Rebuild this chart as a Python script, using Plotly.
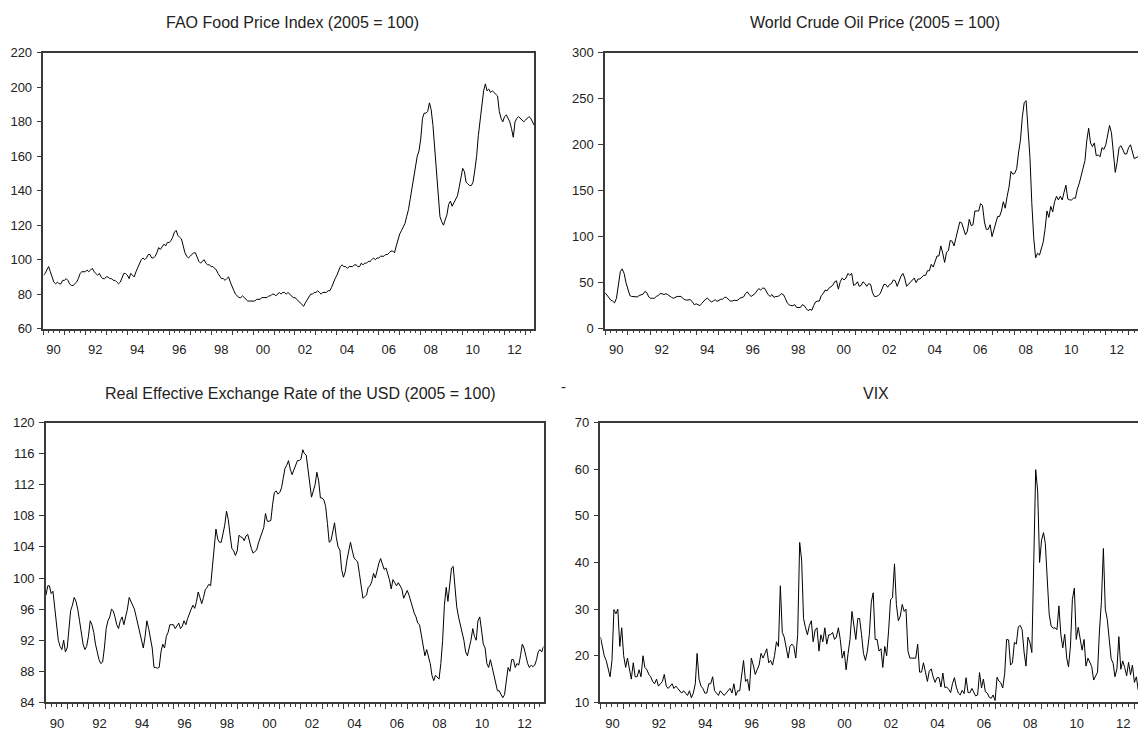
import pandas as pd
import plotly.graph_objects as go

# Monthly observations, 1990:01 - 2013:06
months = pd.date_range("1990-01-01", periods=282, freq="MS")

fao_food = [
    91, 92, 94, 96, 93, 90, 87, 86, 87, 86, 86, 88,
    88, 89, 88, 86, 85, 85, 86, 87, 89, 92, 93, 93,
    93, 94, 93, 94, 95, 93, 92, 91, 92, 90, 89, 89,
    90, 90, 89, 89, 88, 88, 87, 86, 87, 90, 92, 92,
    91, 89, 92, 91, 90, 93, 95, 97, 100, 101, 100, 101,
    103, 103, 101, 101, 102, 104, 107, 106, 108, 109, 108, 110,
    110, 111, 113, 116, 117, 114, 113, 112, 108, 104, 102, 101,
    102, 103, 104, 104, 101, 99, 98, 99, 100, 98, 97, 97,
    96, 96, 95, 94, 92, 90, 89, 89, 88, 89, 90, 87,
    84, 82, 80, 79, 78, 78, 79, 78, 77, 76, 76, 76,
    76, 76, 77, 77, 77, 78, 78, 78, 78, 79, 79, 80,
    80, 79, 80, 81, 80, 81, 81, 80, 81, 80, 79, 78,
    78, 77, 76, 75, 74, 73, 75, 77, 79, 80, 80, 81,
    81, 82, 81, 80, 81, 81, 81, 82, 82, 84, 87, 89,
    91, 94, 96, 97, 96, 96, 95, 96, 96, 96, 97, 97,
    96, 96, 98, 97, 98, 98, 99, 99, 100, 101, 100, 101,
    101, 102, 102, 102, 103, 103, 104, 105, 105, 104, 108, 112,
    115, 117, 119, 121, 125, 129, 135, 142, 149, 155, 160, 163,
    170, 182, 185, 185, 186, 191, 187, 178, 165, 150, 135, 125,
    122, 120, 123, 126, 132, 134, 131, 133, 135, 137, 142, 148,
    153, 151, 145, 144, 143, 143, 145, 152, 160, 172, 182, 192,
    198, 202, 198, 199, 197, 198, 197, 196, 195, 186, 182, 180,
    183, 184, 182, 180, 176, 171, 180, 182, 183, 182, 181, 180,
    181, 182, 183, 182, 180, 178,
]

crude_oil = [
    39, 36, 34, 31, 30, 28, 33, 49, 62, 65, 60, 50,
    44, 36, 35, 35, 35, 34.5, 36, 37, 37.5, 40.5, 39, 34.5,
    33, 33, 33, 35, 36, 38, 38, 37, 38, 37, 35, 34,
    33, 34, 35, 35, 35, 33, 31.5, 31, 31, 31.5, 29, 26,
    27, 26, 25, 27.5, 30, 32, 33, 31, 29, 30, 31.5, 29.6,
    31, 32, 32, 34, 34, 32, 30, 30, 31, 30.5, 31, 33,
    34, 34.5, 38, 40, 37, 35, 36.5, 38, 41, 43.5, 42, 44,
    44, 40, 37, 35, 37, 34, 35, 35, 36, 38, 37, 33,
    28, 26, 25, 25, 26, 23, 23, 23, 26, 25, 22, 19.5,
    21, 20, 25, 29, 30, 30, 36, 38, 42, 41, 44, 46,
    47, 51, 52, 43, 51, 55, 53, 55, 60, 58, 60, 47,
    48, 51, 46, 47, 51, 49, 46, 49, 48, 39, 35, 35,
    36, 38, 44, 48, 48, 45, 48, 49, 53, 52, 46, 51,
    57, 60, 55, 46, 48, 51, 53, 55, 50, 54, 54, 56,
    58, 58, 63, 63, 70, 67, 72, 79, 79, 90, 82, 72,
    83, 85, 96, 95, 90, 99, 106, 116, 115, 109, 102, 106,
    119, 112, 113, 128, 128, 128, 136, 134, 116, 108, 108, 113,
    100, 108, 113, 122, 122, 128, 138, 131, 144, 154, 171, 168,
    169, 174, 191, 205, 230, 246, 248, 212, 186, 136, 98, 77,
    82, 80, 88, 94, 108, 128, 121, 133, 127, 138, 144, 140,
    144, 140, 148, 156, 141, 140, 140, 142, 142, 152, 158, 167,
    174, 183, 204, 218, 202, 198, 202, 188, 189, 187, 197, 195,
    200, 211, 221, 213, 195, 170, 181, 197, 199, 194, 190, 190,
    197, 200, 192, 185, 186, 187,
]

usd_reer = [
    97.8, 99.0, 99.0, 98.0, 98.3, 96.0, 94.0, 92.0, 91.2, 90.8, 92.0, 90.5,
    91.0, 93.5, 95.8, 96.5, 97.5, 97.0, 96.0, 94.5, 93.0, 91.5, 90.8, 91.2,
    92.5, 94.5, 94.0, 93.0, 91.5, 90.5, 89.5, 89.0, 89.2, 91.0, 93.5, 94.5,
    95.0, 96.0, 95.8, 95.0, 94.0, 93.5, 94.5, 95.0, 94.0, 95.0, 96.0, 97.5,
    97.0, 96.5, 96.0, 95.0, 94.0, 93.0, 92.0, 91.0, 92.5, 94.5, 93.5, 92.0,
    91.0, 88.5, 88.5, 88.4, 88.5, 90.5, 91.5, 91.0, 92.5, 93.0, 94.0, 94.0,
    94.0, 93.5, 93.8, 94.2, 93.5, 93.8, 94.5, 94.0, 94.8, 95.5, 96.0, 96.5,
    96.1, 97.0, 98.2, 97.5, 96.7, 97.5, 98.5, 98.8, 99.2, 99.0, 101.5, 104.0,
    106.3, 105.0, 104.6, 104.6, 105.5, 106.8, 108.6, 107.5, 105.5, 103.8, 103.5, 102.9,
    103.5, 105.5, 105.3, 105.2, 104.8, 105.4, 105.6, 104.5, 103.8, 103.2, 103.4, 103.6,
    104.5, 105.2, 106.0, 106.5, 108.3, 107.3, 107.3, 107.4, 109.5, 111.0, 111.2, 110.8,
    111.0, 111.6, 112.8, 114.1, 114.5, 115.1, 114.0, 113.3, 113.9, 114.4, 115.1, 115.1,
    115.3, 116.5, 116.0, 115.8, 114.0, 112.7, 110.4, 111.2, 112.0, 113.6, 112.5, 110.3,
    110.3, 110.0, 109.2, 107.0, 104.6, 104.8, 106.0, 107.1, 105.2, 104.0, 103.6, 101.1,
    100.1, 100.8, 102.3, 103.5, 104.6, 103.5, 102.6, 102.3, 102.1, 100.6, 99.0, 97.4,
    97.6, 97.8, 98.8, 99.0, 99.5, 100.6, 100.0, 101.0, 101.9, 102.5, 101.8, 101.1,
    101.3, 100.6, 99.8, 98.6, 99.8, 99.4, 99.0, 99.4, 99.0, 98.6, 97.4, 97.8,
    98.4, 97.8, 97.0, 96.3, 95.5, 95.0, 94.2, 94.0, 92.5, 91.5, 90.0, 90.8,
    90.0, 89.0, 87.5, 86.8, 87.5, 87.2, 87.0, 89.0, 92.0, 96.5, 98.8, 97.0,
    99.0, 101.3, 101.5, 99.0, 96.3, 95.0, 94.0, 92.8, 92.0, 90.5, 90.0, 91.0,
    92.0, 93.5, 92.5, 92.0, 94.5, 95.0, 93.0, 91.5, 91.0, 89.0, 88.5, 89.5,
    88.5, 87.5, 86.5, 85.5, 85.5, 85.0, 84.6, 85.0, 87.0, 88.5, 88.0, 89.5,
    89.5, 88.5, 89.0, 88.8, 90.0, 91.5, 91.0, 90.0, 89.0, 88.5, 88.8, 88.6,
    88.8, 89.5, 90.5, 90.8, 90.5, 91.2,
]

vix = [
    24, 22, 20, 19, 17.5, 15.5, 19, 29.9, 29, 30, 22, 26,
    20, 17.5, 19.5, 17, 15, 18.5, 15.5, 15.5, 17, 15.5, 20, 17.5,
    17, 16, 15.5, 14.5, 14, 15, 13.5, 14, 14.5, 16, 13.5, 13,
    13.5, 14, 13, 13.5, 13, 12.5, 12, 12.5, 12, 11.5, 12.5, 11,
    12, 14, 20.5, 15, 13.5, 13, 12, 12, 14, 14, 15.5, 12.5,
    12, 11.5, 12.5, 12, 11.5, 12, 12.5, 13, 12, 14, 11.5, 12.5,
    12.5, 16, 19, 14.5, 15, 12.5, 19.5, 18, 16, 17, 18, 20.5,
    19.5, 20.5, 21.5, 18.5, 19, 18, 20, 23, 22, 35, 25, 24,
    22, 19.5, 22, 22.5, 22, 19.5, 24.5, 44.3, 40.5, 28, 26, 24.5,
    26.5, 27.5, 23, 25.5, 26, 21, 24.5, 23, 26, 22.5, 24.5, 24.5,
    25, 23.5, 24, 26, 23.5, 19.5, 21, 17, 20.5, 23.5, 29.5, 27,
    23.5, 28, 28, 24.5, 20.5, 19, 21, 24.5, 31.5, 33.5, 23.5, 23.5,
    21, 21.5, 17.5, 22, 20, 25.5, 32, 32.5, 39.7, 31, 27.5, 28.5,
    31, 29.5, 30, 21, 19.5, 19.5, 19.5, 19.5, 22.5, 16.5, 16.5, 18.5,
    16.5, 14.5, 16.7, 17.2, 15.5, 14.3, 15.3, 15.3, 13.3, 16.3, 13.2, 13.3,
    12.8, 12.1, 14.0, 15.3, 13.3, 12.0, 11.6, 12.6, 11.9, 15.3, 12.1, 12.1,
    13.0, 12.3, 11.4, 11.6, 16.4, 13.1, 15.0, 12.3, 12.0, 11.1, 10.9, 11.6,
    10.4, 15.4, 14.6, 14.2, 13.1, 16.2, 23.5, 23.4, 18.0, 18.5, 22.9, 22.5,
    26.2, 26.5, 25.6, 20.8, 17.8, 24.0, 22.9, 20.7, 39.4, 59.9, 55.3, 40.0,
    44.8, 46.4, 44.1, 36.5, 28.9, 26.4, 25.9, 26.0, 25.6, 30.7, 24.5, 21.7,
    24.6, 19.5, 17.6, 22.1, 32.1, 34.5, 23.5, 26.1, 23.7, 21.2, 23.5, 17.8,
    19.5, 18.4, 17.7, 14.8, 15.5, 16.5, 25.3, 31.6, 43.0, 30.0, 27.8, 23.4,
    19.4, 18.4, 15.5, 17.2, 24.1, 17.1, 18.9, 17.5, 15.7, 18.6, 15.9, 18.0,
    14.3, 15.5, 12.7, 13.5, 14.5, 13.5,
]

titles = [
    "FAO Food Price Index (2005 = 100)",
    "World Crude Oil Price (2005 = 100)",
    "Real Effective Exchange Rate of the USD (2005 = 100)",
    "VIX",
]

year_ticks = pd.date_range("1990-01-01", "2013-01-01", freq="YS")
year_labels = [f"{y % 100:02d}" if y % 2 == 0 else "" for y in year_ticks.year]

# The page body adds an 8 px margin; the figure is sized to fit the window.
OFF = 8
W, H = 1138, 723
FONT = "Liberation Sans, Arial, sans-serif"
FRAME = "#3a3a3a"

panels = [
    # series, x extent (page px), y extent (page px top, bottom), yrange, dtick, title centre x, title centre y
    (fao_food, (43.5, 534.7), (47, 331), (60, 220), 20, 293, 16),
    (crude_oil, (605.7, 1139), (47, 331), (0, 300), 50, 876, 16),
    (usd_reer, (46, 544), (427.7, 716), (84, 120), 4, 300.5, 398),
    (vix, (601, 1145), (427.7, 716), (10, 70), 10, 876.7, 398),
]


def fx(px):
    return (px - OFF) / W


def fy(py):
    return 1 - (py - OFF) / H


fig = go.Figure()
layout = dict(
    width=W, height=H,
    margin=dict(l=0, r=0, t=0, b=0),
    paper_bgcolor="white", plot_bgcolor="white",
    showlegend=False,
    font=dict(family=FONT, size=13, color="#222"),
    annotations=[],
)

years_span = (months[-1] - months[0]).days / 365.25

for i, (series, (x0, x1), (ytop, ybot), yr, dt, tx, ty) in enumerate(panels):
    n = i + 1
    xa = "xaxis" if n == 1 else f"xaxis{n}"
    ya = "yaxis" if n == 1 else f"yaxis{n}"
    xr = "x" if n == 1 else f"x{n}"
    yrf = "y" if n == 1 else f"y{n}"
    fig.add_trace(go.Scatter(x=months, y=series, mode="lines",
                             line=dict(color="black", width=1),
                             xaxis=xr, yaxis=yrf, hoverinfo="skip"))
    px_per_year = (x1 - x0) / years_span
    layout[xa] = dict(
        domain=[fx(x0), min(fx(x1), 1.0)], anchor=yrf, type="date",
        range=[months[0], months[-1]],
        tickmode="array", tickvals=year_ticks, ticktext=year_labels,
        ticks="outside", ticklen=5, tickwidth=1, tickcolor=FRAME,
        minor=dict(dtick="M3", tick0="1990-01-01", ticks="outside",
                   ticklen=3, tickwidth=1, tickcolor=FRAME, showgrid=False),
        ticklabelshift=int(round(px_per_year / 2)), ticklabelstandoff=3,
        showline=True, mirror=True, linecolor=FRAME, linewidth=1.5,
        showgrid=False, zeroline=False,
        tickfont=dict(family=FONT, size=13, color="#222"),
    )
    layout[ya] = dict(
        domain=[fy(ybot), fy(ytop)], anchor=xr,
        range=list(yr), dtick=dt, tick0=yr[0],
        ticks="outside", ticklen=5, tickwidth=1, tickcolor=FRAME,
        ticklabelstandoff=2,
        showline=True, mirror=True, linecolor=FRAME, linewidth=1.5,
        showgrid=False, zeroline=False,
        tickfont=dict(family=FONT, size=13, color="#222"),
    )
    layout["annotations"].append(dict(
        text=titles[i], xref="paper", yref="paper",
        x=fx(tx), y=fy(ty),
        xanchor="center", yanchor="middle", showarrow=False,
        font=dict(family=FONT, size=16, color="#222"),
    ))

layout["annotations"].append(dict(
    text="-", xref="paper", yref="paper", x=fx(564), y=fy(391),
    xanchor="center", yanchor="middle", showarrow=False,
    font=dict(family=FONT, size=15, color="#222"),
))

fig.update_layout(**layout)
fig.write_html("out.html")
